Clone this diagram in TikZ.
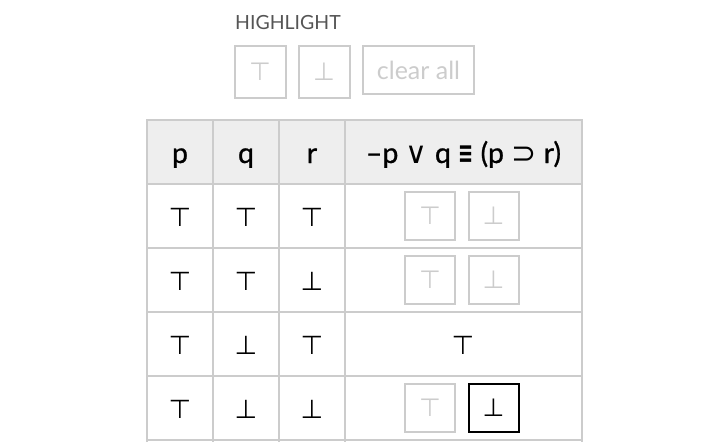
\documentclass[tikz,border=0pt]{standalone}
\usepackage{fontspec}
\setmainfont{Lato}
\newfontfamily\symf{DejaVu Sans}
\newfontfamily\headf{Lato}[FakeBold=0.8]
\usepackage{tikz}
\usetikzlibrary{positioning}
\definecolor{gridgray}{HTML}{CCCCCC}
\definecolor{headfill}{HTML}{EEEEEE}
\definecolor{labelgray}{HTML}{555555}
\newcommand{\opsym}[1]{{\symf\fontsize{30}{30}\selectfont #1}}

\begin{document}
\begin{tikzpicture}[x=1pt,y=-1pt,
    gridline/.style={gridgray, line width=2pt},
    btn/.style={draw=gridgray, line width=2pt, inner sep=0pt, minimum width=50pt, minimum height=48pt, text=gridgray, font=\symf\fontsize{25}{25}\selectfont},
    chosen/.style={btn, draw=black, text=black},
    val/.style={inner sep=0pt, font=\symf\fontsize{26}{26}\selectfont},
    head/.style={anchor=base, inner sep=0pt, font=\headf\fontsize{28.5}{29}\selectfont}]
    \useasboundingbox (0,0) rectangle (707,442);

    % Highlight controls
    \node[anchor=base west, inner sep=0pt, text=labelgray, font=\fontsize{19.5}{20}\selectfont] (hlLabel) at (235,29) {HIGHLIGHT};
    \node[btn, minimum width=51pt, minimum height=52pt] (hlTop) at (260,72) {⊤};
    \node[btn, minimum width=51pt, minimum height=52pt] (hlBot) at (324,72) {⊥};
    \node[btn, minimum width=111pt, minimum height=48pt, font=\fontsize{25}{25}\selectfont] (clearAll) at (418.5,70) {clear all};

    % Table grid
    \fill[headfill] (147,120) rectangle (582,184);
    \foreach \y in {120,184,247.5,311.5,375.5,439.5}
        \draw[gridline] (146,\y) -- (583,\y);
    \foreach \x in {147,213,279,345,582}
        \draw[gridline] (\x,120) -- (\x,442);

    % Header
    \node[head] (hp) at (180,163) {p};
    \node[head] (hq) at (246,163) {q};
    \node[head] (hr) at (312,163) {r};
    \node[head] (hf) at (463.5,163) {–p \opsym{∨} q \scalebox{0.6}[1]{\opsym{\bfseries ≡}} (p \opsym{⊃} r)};

    % Row 1
    \node[val] (a1) at (180,217) {⊤};
    \node[val] (b1) at (246,217) {⊤};
    \node[val] (c1) at (312,217) {⊤};
    \node[btn] (t1) at (430,216) {⊤};
    \node[btn] (f1) at (493.5,216) {⊥};

    % Row 2
    \node[val] (a2) at (180,281) {⊤};
    \node[val] (b2) at (246,281) {⊤};
    \node[val] (c2) at (312,281) {⊥};
    \node[btn] (t2) at (430,279.5) {⊤};
    \node[btn] (f2) at (493.5,279.5) {⊥};

    % Row 3
    \node[val] (a3) at (180,345) {⊤};
    \node[val] (b3) at (246,345) {⊥};
    \node[val] (c3) at (312,345) {⊤};
    \node[val] (v3) at (463,345) {⊤};

    % Row 4
    \node[val] (a4) at (180,409) {⊤};
    \node[val] (b4) at (246,409) {⊥};
    \node[val] (c4) at (312,409) {⊥};
    \node[btn] (t4) at (430,407.5) {⊤};
    \node[chosen] (f4) at (493.5,407.5) {⊥};
\end{tikzpicture}
\end{document}
